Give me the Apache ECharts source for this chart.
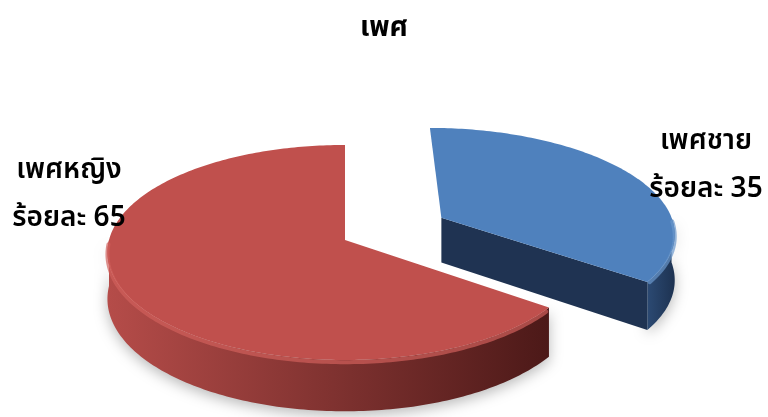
<!DOCTYPE html>
<html>
<head>
<meta charset="utf-8">
<script src="https://cdn.jsdelivr.net/npm/echarts@6/dist/echarts.min.js"></script>
<style>
  html, body { margin: 0; padding: 0; background: #ffffff; }
  #chart { width: 768px; height: 417px; }
</style>
</head>
<body>
<div id="chart"></div>
<script>
// Gender split (percent)
const chartTitle = 'เพศ';
const categories = ['เพศชาย', 'เพศหญิง'];
const percentValues = [35, 65];
const labelPrefix = 'ร้อยละ';

// Drawing layout for the tilted, extruded pie
const FONT = "'Noto Sans Thai', 'Tahoma', 'Noto Sans', 'DejaVu Sans', sans-serif";
const layout = {
  cx: 345, cy: 240,      // apex of the un-exploded pie
  rx: 236, ry: 107.5,    // radii of the top face
  depth: 46,             // extrusion height
  persp: 0.116,          // near side drawn slightly larger than far side
  explode: [0.47, 0],    // radial pull-out per slice (fraction of radius)
  labelAt: [[706, 167.5], [69, 196.5]],
  lineGap: 48,
  fontSize: 28,
  fontWeight: 600
};
const palette = [
  { top: '#4f81bd', rim: '#6a97cc', cut: '#1f3352', wallL: '#2c4a73', wallR: '#1d3251' },
  { top: '#c0504d', rim: '#d05f5b', cut: '#5a1f1e', wallL: '#b54c49', wallR: '#4c1918' }
];

const total = percentValues.reduce((s, v) => s + v, 0);
const DEG = Math.PI / 180;

// Project a point of the unit disk (u right, v toward viewer) at height h
function project(u, v, h) {
  const f = 1 + layout.persp * v;
  return [layout.cx + layout.rx * u * f, layout.cy + layout.ry * v * f + h * f];
}
// Angle measured clockwise from 12 o'clock
function diskPoint(phi, off) {
  return [Math.sin(phi) + off[0], -Math.cos(phi) + off[1]];
}
function arc(a0, a1, off, h) {
  const pts = [];
  const n = Math.max(2, Math.ceil(Math.abs(a1 - a0) / DEG));
  for (let i = 0; i <= n; i++) {
    const p = diskPoint(a0 + (a1 - a0) * i / n, off);
    pts.push(project(p[0], p[1], h));
  }
  return pts;
}

function renderSlice(params, api) {
  const idx = params.dataIndex;
  const value = api.value(0);
  let before = 0;
  for (let i = 0; i < idx; i++) before += percentValues[i];
  const s = before / total * 2 * Math.PI;
  const e = (before + value) / total * 2 * Math.PI;
  const mid = (s + e) / 2;
  const d = layout.explode[idx];
  const off = [d * Math.sin(mid), -d * Math.cos(mid)];
  const col = palette[idx];
  const H = layout.depth;
  const children = [];

  const apexTop = project(off[0], off[1], 0);
  const apexBot = project(off[0], off[1], H);

  // outer wall on the near half (90°..270°)
  const w0 = Math.max(s, Math.PI / 2), w1 = Math.min(e, 1.5 * Math.PI);
  if (w1 > w0) {
    const topArc = arc(w0, w1, off, 0);
    const botArc = arc(w0, w1, off, H).reverse();
    const xs = topArc.map(p => p[0]);
    const gx0 = Math.min.apply(null, xs), gx1 = Math.max.apply(null, xs);
    children.push({
      type: 'polygon',
      shape: { points: topArc.concat(botArc) },
      style: {
        fill: new echarts.graphic.LinearGradient(gx0, 0, gx1, 0, [
          { offset: 0, color: col.wallL },
          { offset: 1, color: col.wallR }
        ], true),
        shadowBlur: 14, shadowColor: 'rgba(0,0,0,0.28)', shadowOffsetY: 4
      },
      z2: 1
    });
  }
  // cut face at the end angle when it turns toward the viewer
  if (Math.sin(e) > 0.01) {
    const rt = project(...diskPoint(e, off), 0);
    const rb = project(...diskPoint(e, off), H);
    children.push({
      type: 'polygon',
      shape: { points: [apexTop, rt, rb, apexBot] },
      style: { fill: col.cut },
      z2: 2
    });
  }
  // cut face at the start angle when it turns toward the viewer
  if (Math.sin(s) < -0.01) {
    const rt = project(...diskPoint(s, off), 0);
    const rb = project(...diskPoint(s, off), H);
    children.push({
      type: 'polygon',
      shape: { points: [apexTop, rt, rb, apexBot] },
      style: { fill: col.cut },
      z2: 2
    });
  }
  // top face
  children.push({
    type: 'polygon',
    shape: { points: [apexTop].concat(arc(s, e, off, 0)) },
    style: { fill: col.top },
    z2: 3
  });
  // rounded rim highlight along the near edge
  if (w1 > w0) {
    children.push({
      type: 'polyline',
      shape: { points: arc(w0 + 0.02, w1 - 0.02, off, 2) },
      style: { stroke: col.rim, lineWidth: 4, fill: null, opacity: 0.7, lineCap: 'round' },
      z2: 4
    });
  }
  // data label
  const lp = layout.labelAt[idx];
  children.push({
    type: 'text',
    x: lp[0],
    y: lp[1] - layout.lineGap,
    style: {
      text: categories[idx] + '\n' + labelPrefix + ' ' + value,
      font: layout.fontWeight + ' ' + layout.fontSize + 'px ' + FONT,
      fill: '#000000',
      align: 'center',
      verticalAlign: 'top',
      lineHeight: layout.lineGap
    },
    z2: 10
  });

  return { type: 'group', children: children };
}

const chart = echarts.init(document.getElementById('chart'), null, { renderer: 'canvas' });
chart.setOption({
  animation: false,
  backgroundColor: '#ffffff',
  title: {
    text: chartTitle,
    left: 'center',
    top: 11,
    textStyle: { fontFamily: FONT, fontSize: 28, fontWeight: 'bold', color: '#000000' }
  },
  series: [{
    type: 'custom',
    coordinateSystem: 'none',
    renderItem: renderSlice,
    data: percentValues.map((v, i) => [v, i])
  }]
});
</script>
</body>
</html>
